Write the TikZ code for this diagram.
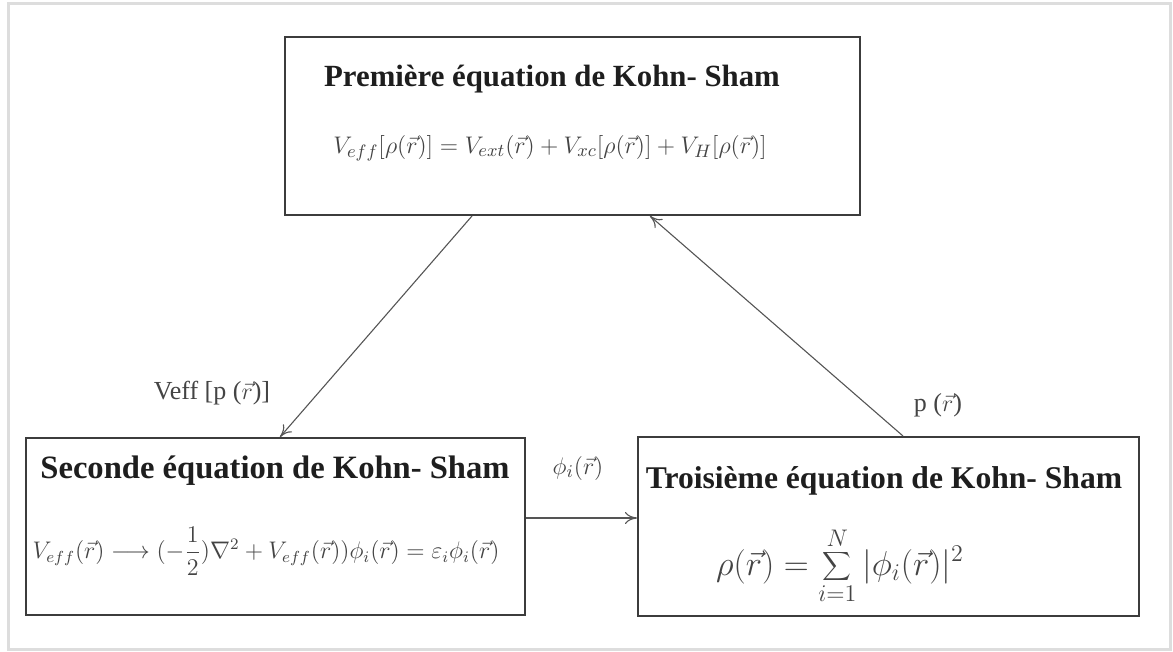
\documentclass[tikz,border=0pt]{standalone}
\usepackage{fontspec}
\setmainfont{Liberation Serif}
\usetikzlibrary{arrows.meta,positioning,calc}
\definecolor{ink}{HTML}{1E1E1E}
\definecolor{edge}{HTML}{3C3C3C}
\definecolor{wire}{HTML}{555555}
\definecolor{frame}{HTML}{DDDDDD}
\definecolor{soft}{HTML}{444444}
\tikzset{
  >={To[length=6pt,width=6pt]},
  every node/.style={text=ink},
  ksbox/.style={draw=edge,line width=1pt,fill=white,inner sep=0pt},
  title/.style={font=\fontsize{15.4}{17}\selectfont\bfseries,inner sep=0pt},
  eqn/.style={font=\fontsize{12.2}{15}\selectfont,inner sep=0pt,text=soft},
  flow/.style={->,line width=0.55pt,draw=wire},
  lbl/.style={font=\fontsize{13}{15}\selectfont,inner sep=1pt,text=soft},
  outer/.style={draw=frame,line width=1.5pt},
}
\begin{document}
\begin{tikzpicture}[x=0.5pt,y=-0.5pt]
  \useasboundingbox (0,0) rectangle (1173,652);
  \draw[outer] (8,4) rectangle (1170,649);

  % the three Kohn-Sham boxes
  \node[ksbox,minimum width=287.5pt,minimum height=89pt] (ks1) at (572.5,126) {};
  \node[ksbox,minimum width=249.5pt,minimum height=88.5pt] (ks2) at (275.5,526.5) {};
  \node[ksbox,minimum width=250.5pt,minimum height=89.5pt] (ks3) at (888.5,526.5) {};

  \node[title] (ks1title) at (552,79) {Première équation de Kohn- Sham};
  \node[eqn] (ks1eq) at (550,148)
    {$V_{eff}[\rho(\vec{r})] = V_{ext}(\vec{r}) + V_{xc}[\rho(\vec{r})] + V_{H}[\rho(\vec{r})]$};

  \node[title,font=\fontsize{16.3}{18}\selectfont\bfseries] (ks2title) at (275,471) {Seconde équation de Kohn- Sham};
  \node[eqn,font=\fontsize{11.7}{14}\selectfont] (ks2eq) at (266,551)
    {$V_{eff}(\vec{r}) \longrightarrow (-{\displaystyle\frac{1}{2}})\nabla^2 + V_{eff}(\vec{r}))\phi_i(\vec{r}) = \varepsilon_i\phi_i(\vec{r})$};

  \node[title,font=\fontsize{15.8}{18}\selectfont\bfseries] (ks3title) at (884,481) {Troisième équation de Kohn- Sham};
  \node[eqn,font=\fontsize{17}{20}\selectfont] (ks3eq) at (840,566)
    {$\displaystyle \rho(\vec{r}) = \sum_{i=1}^{N} |\phi_i(\vec{r})|^2$};

  % cycle
  \draw[flow] ([xshift=-50.25pt]ks1.south) -- ([xshift=2.25pt]ks2.north);
  \draw[flow] ([yshift=4.25pt]ks2.east) -- ([yshift=4.25pt]ks3.west);
  \draw[flow] ([xshift=7.25pt]ks3.north) -- ([xshift=38.75pt]ks1.south);

  \node[lbl] (veff) at (212,393) {Veff [p ($\vec{r}$)]};
  \node[lbl] (phi) at (578,468) {$\phi_i(\vec{r})$};
  \node[lbl] (rho) at (938,405) {p ($\vec{r}$)};
\end{tikzpicture}
\end{document}
